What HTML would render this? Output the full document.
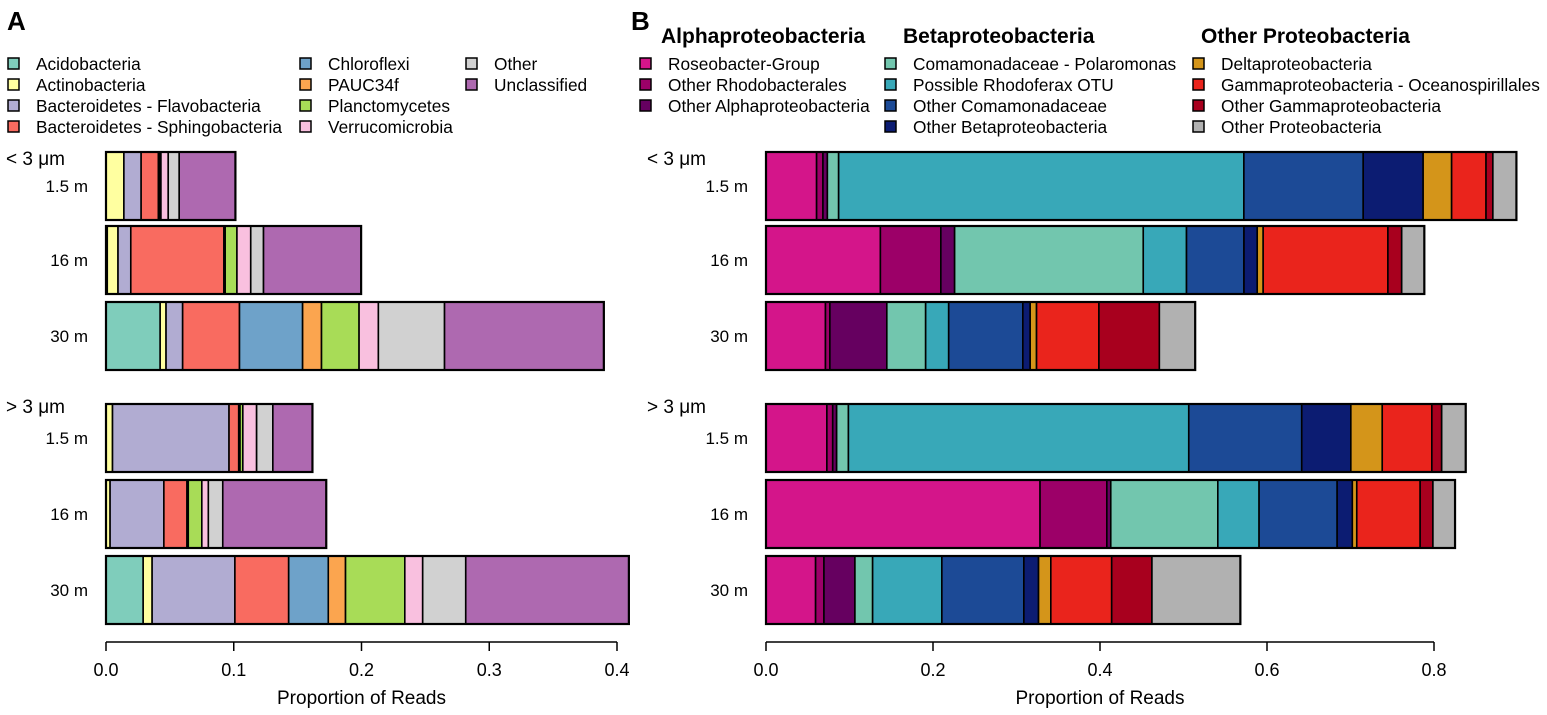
<!DOCTYPE html>
<html><head><meta charset="utf-8"><style>
body{margin:0;background:#fff;}
svg{display:block;font-family:"Liberation Sans",Arial,sans-serif;}
</style></head><body>
<svg id="chart" width="1547" height="715" viewBox="0 0 1547 715">
<g id="panelA"></g>
<g id="panelB"></g>
</svg>
<script>
// ---- Panel A data ----
const catsA = ["Acidobacteria","Actinobacteria","Bacteroidetes - Flavobacteria","Bacteroidetes - Sphingobacteria","Chloroflexi","PAUC34f","Planctomycetes","Verrucomicrobia","Other","Unclassified"];
const colorsA = ["#7fcdbb","#ffffa0","#b1acd2","#f96b60","#6ea2c9","#fba54f","#a8dc57","#f9c0df","#d1d1d1","#ae69b0"];
const rowsA = ["1.5 m","16 m","30 m","1.5 m","16 m","30 m"];
const a_small_1_5 = [0,0.014,0.0135,0.0135,0.001,0.0005,0.0005,0.0057,0.0086,0.044];
const a_small_16 = [0.001,0.0084,0.010,0.0729,0.0005,0.0005,0.0092,0.0108,0.010,0.0764];
const a_small_30 = [0.0424,0.0046,0.013,0.0445,0.0494,0.0148,0.0294,0.0151,0.0518,0.1247];
const a_large_1_5 = [0,0.0051,0.0912,0.0076,0.0005,0.0005,0.0022,0.0108,0.0127,0.031];
const a_large_16 = [0,0.0032,0.0421,0.0181,0.0005,0.0005,0.0106,0.0051,0.0113,0.081];
const a_large_30 = [0.0291,0.007,0.0648,0.0421,0.031,0.0135,0.0464,0.014,0.0337,0.1277];
const ticksA = [0,0.1,0.2,0.3,0.4];
const tickLabelsA = ["0.0","0.1","0.2","0.3","0.4"];

// ---- Panel B data ----
const catsB = ["Roseobacter-Group","Other Rhodobacterales","Other Alphaproteobacteria","Comamonadaceae - Polaromonas","Possible Rhodoferax OTU","Other Comamonadaceae","Other Betaproteobacteria","Deltaproteobacteria","Gammaproteobacteria - Oceanospirillales","Other Gammaproteobacteria","Other Proteobacteria"];
const colorsB = ["#d4158a","#9c0068","#660060","#72c6ae","#38a8b8","#1c4a96","#0c1c72","#d4951a","#ea241c","#a8001e","#b1b1b1"];
const groupsB = ["Alphaproteobacteria","Betaproteobacteria","Other Proteobacteria"];
const b_small_1_5 = [0.0606,0.0076,0.0053,0.0135,0.4853,0.1429,0.0718,0.0341,0.0412,0.0082,0.0282];
const b_small_16 = [0.137,0.0724,0.0165,0.2259,0.0518,0.0688,0.0159,0.0071,0.1494,0.0165,0.0271];
const b_small_30 = [0.0712,0.0053,0.0682,0.0465,0.0276,0.0888,0.0088,0.0076,0.0747,0.0724,0.0429];
const b_large_1_5 = [0.0729,0.007,0.0047,0.0141,0.4076,0.1353,0.0588,0.0376,0.0594,0.0118,0.0288];
const b_large_16 = [0.3282,0.08,0.0047,0.1282,0.0494,0.0935,0.0182,0.0053,0.0759,0.0153,0.0265];
const b_large_30 = [0.0594,0.01,0.0371,0.0212,0.0829,0.0982,0.0176,0.0147,0.0729,0.0482,0.1059];
const ticksB = [0,0.2,0.4,0.6,0.8];
const tickLabelsB = ["0.0","0.2","0.4","0.6","0.8"];

const NS="http://www.w3.org/2000/svg";
function mk(parent,tag,attrs,text){const e=document.createElementNS(NS,tag);for(const k in attrs)e.setAttribute(k,attrs[k]);if(text!==undefined)e.textContent=text;parent.appendChild(e);return e;}
const rowTops=[152,226,302,404,480,556];
const barH=68;

function drawPanel(g,x0,scale,dataRows,colors,ticks,tickLabels,labelRight,groupX,prefix){
  const sx=v=>x0+v*scale;
  dataRows.forEach((vals,r)=>{
    let cum=0;
    const bg=mk(g,'g',{});
    
    
    vals.forEach((v,i)=>{
      const rc=mk(bg,'rect',{x:sx(cum),y:rowTops[r],width:Math.max(sx(cum+v)-sx(cum),0),height:barH,fill:colors[i],stroke:'#000','stroke-width':1.6});
      
      
      cum+=v;
    });
    const o=mk(bg,'rect',{x:sx(0),y:rowTops[r],width:sx(cum)-sx(0),height:barH,fill:'none',stroke:'#000','stroke-width':2.2});
    
    
    const t=mk(g,'text',{x:labelRight,y:rowTops[r]+40,'text-anchor':'end','font-size':17},rowsA[r]);
    
    
  });
  const g1=mk(g,'text',{x:groupX,y:165,'font-size':19},'< 3 \u03bcm');
  
  
  const g2=mk(g,'text',{x:groupX,y:413,'font-size':19},'> 3 \u03bcm');
  
  
  const ax=mk(g,'line',{x1:sx(ticks[0]),x2:sx(ticks[ticks.length-1]),y1:642,y2:642,stroke:'#000','stroke-width':1.5});
  
  
  ticks.forEach((tv,i)=>{
    const tk=mk(g,'line',{x1:sx(tv),x2:sx(tv),y1:642,y2:651,stroke:'#000','stroke-width':1.5});
    
    
    const tl=mk(g,'text',{x:sx(tv),y:676,'text-anchor':'middle','font-size':18},tickLabels[i]);
    
    
  });
  const at=mk(g,'text',{x:(sx(ticks[0])+sx(ticks[ticks.length-1]))/2,y:704,'text-anchor':'middle','font-size':19},'Proportion of Reads');
  
  
}

function legendItem(g,x,y,color,label,prefix){
  const it=mk(g,'g',{});
  
  
  mk(it,'rect',{x:x,y:y-6,width:11,height:11,fill:color,stroke:'#000','stroke-width':1.5});
  mk(it,'text',{x:x+28,y:y+6,'font-size':17.3},label);
}

const A=document.getElementById('panelA');
const B=document.getElementById('panelB');
drawPanel(A,106,1277.5,[a_small_1_5,a_small_16,a_small_30,a_large_1_5,a_large_16,a_large_30],colorsA,ticksA,tickLabelsA,88,6,'a');
drawPanel(B,766,835,[b_small_1_5,b_small_16,b_small_30,b_large_1_5,b_large_16,b_large_30],colorsB,ticksB,tickLabelsB,748,647,'b');

const la=mk(A,'text',{x:7,y:30,'font-size':26,'font-weight':'bold'},'A');


const lb=mk(B,'text',{x:631,y:30,'font-size':26,'font-weight':'bold'},'B');



const rowY=[64,85,106,127];
const colXA=[8,300,466];
catsA.forEach((c,i)=>{
  const col=i<4?0:(i<8?1:2);
  const row=i<4?i:(i<8?i-4:i-8);
  legendItem(A,colXA[col],rowY[row],colorsA[i],c,'a');
});
const colXB=[640,885,1193];
const headX=[661,903,1201];
const perGroup=[3,4,4];
let k=0;
groupsB.forEach((gname,gi)=>{
  const h=mk(B,'text',{x:headX[gi],y:43,'font-size':21,'font-weight':'bold'},gname);
  
  
  for(let j=0;j<perGroup[gi];j++){legendItem(B,colXB[gi],rowY[j],colorsB[k],catsB[k],'b');k++;}
});
</script>
</body></html>
